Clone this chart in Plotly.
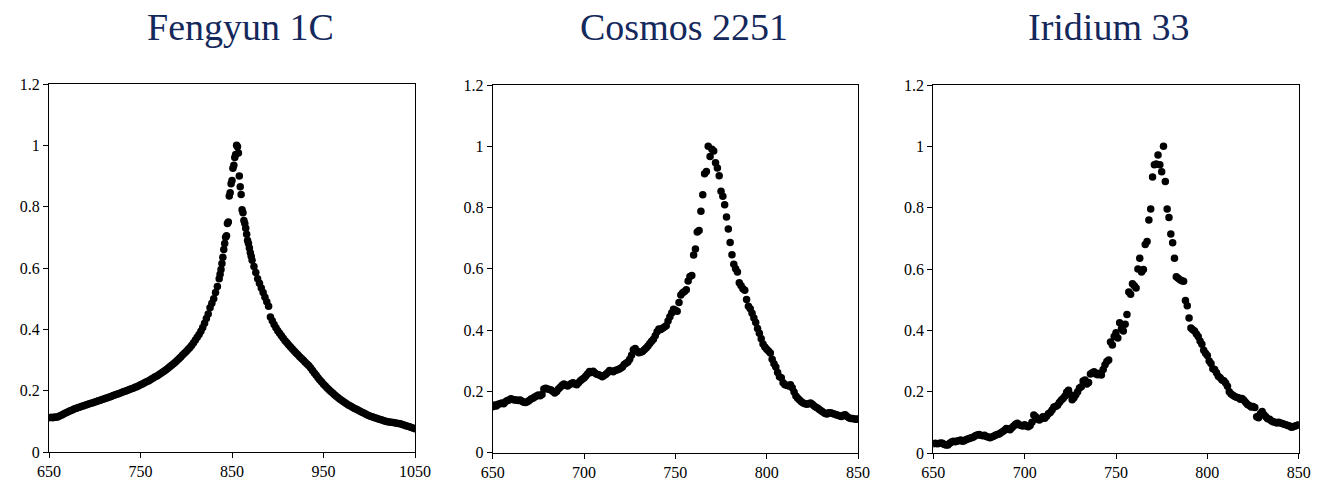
import plotly.graph_objects as go

# ---------------- data ----------------
titles = ["Fengyun 1C", "Cosmos 2251", "Iridium 33"]

y_ticks = [0, 0.2, 0.4, 0.6, 0.8, 1, 1.2]
y_tick_labels = ["0", "0.2", "0.4", "0.6", "0.8", "1", "1.2"]
x_ticks_1 = [650, 750, 850, 950, 1050]
x_ticks_23 = [650, 700, 750, 800, 850]

# Fengyun 1C: x sampled every 2 in tails, every 1 near the peak
fy_x_left = list(range(650, 836, 2))
fy_x_peak = list(range(836, 872))
fy_x_right = list(range(872, 1051, 2))

fy_y_left = [
    0.112, 0.113, 0.112, 0.114, 0.113, 0.115, 0.118, 0.121, 0.124, 0.127,
    0.130, 0.133, 0.135, 0.138, 0.141, 0.143, 0.145, 0.147, 0.149, 0.151,
    0.153, 0.155, 0.157, 0.159, 0.161, 0.163, 0.165, 0.167, 0.169, 0.171,
    0.173, 0.175, 0.177, 0.179, 0.181, 0.184, 0.186, 0.188, 0.190, 0.192,
    0.195, 0.197, 0.199, 0.201, 0.204, 0.206, 0.208, 0.211, 0.213, 0.216,
    0.219, 0.222, 0.225, 0.228, 0.231, 0.234, 0.238, 0.241, 0.245, 0.248,
    0.252, 0.256, 0.260, 0.264, 0.268, 0.273, 0.278, 0.283, 0.288, 0.293,
    0.298, 0.304, 0.310, 0.316, 0.322, 0.328, 0.334, 0.341, 0.348, 0.356,
    0.365, 0.374, 0.383, 0.394, 0.406, 0.420, 0.435, 0.450, 0.470, 0.485,
    0.500, 0.520, 0.540,
]
fy_y_peak = [
    0.565, 0.580, 0.595, 0.615, 0.635, 0.660, 0.680, 0.700, 0.705, 0.745,
    0.750, 0.835, 0.845, 0.875, 0.885, 0.925, 0.935, 0.960, 0.970, 1.000,
    0.995, 0.975, 0.900, 0.865, 0.840, 0.790, 0.780, 0.755, 0.745, 0.730,
    0.710, 0.690, 0.680, 0.665, 0.650, 0.638,
]
fy_y_right = [
    0.625, 0.605, 0.585, 0.565, 0.550, 0.535, 0.520, 0.505, 0.490, 0.475,
    0.440, 0.428, 0.416, 0.405, 0.395, 0.387, 0.379, 0.371, 0.363, 0.356,
    0.349, 0.342, 0.336, 0.329, 0.323, 0.317, 0.311, 0.305, 0.299, 0.293,
    0.287, 0.281, 0.274, 0.266, 0.258, 0.250, 0.242, 0.235, 0.228, 0.221,
    0.215, 0.209, 0.203, 0.197, 0.192, 0.187, 0.182, 0.177, 0.172, 0.168,
    0.164, 0.160, 0.156, 0.152, 0.149, 0.145, 0.142, 0.139, 0.136, 0.133,
    0.130, 0.127, 0.124, 0.121, 0.118, 0.116, 0.114, 0.112, 0.110, 0.108,
    0.106, 0.104, 0.102, 0.100, 0.099, 0.098, 0.097, 0.096, 0.095, 0.094,
    0.093, 0.092, 0.090, 0.088, 0.086, 0.084, 0.082, 0.080, 0.078, 0.076,
]

# Cosmos 2251: x = 650..850 step 1
cosmos_x = list(range(650, 851))
cosmos_y = [
    0.150, 0.156, 0.152, 0.158, 0.160, 0.162, 0.160, 0.166, 0.170, 0.172,
    0.176, 0.174, 0.172, 0.172, 0.170, 0.172, 0.168, 0.165, 0.164, 0.166,
    0.170, 0.175, 0.178, 0.182, 0.185, 0.188, 0.186, 0.190, 0.208, 0.210,
    0.208, 0.206, 0.205, 0.200, 0.195, 0.200, 0.208, 0.214, 0.220, 0.224,
    0.220, 0.218, 0.222, 0.226, 0.228, 0.224, 0.222, 0.228, 0.235, 0.240,
    0.244, 0.250, 0.258, 0.265, 0.262, 0.266, 0.260, 0.256, 0.254, 0.252,
    0.248, 0.252, 0.256, 0.262, 0.268, 0.266, 0.264, 0.268, 0.270, 0.272,
    0.276, 0.280, 0.288, 0.292, 0.296, 0.305, 0.318, 0.336, 0.340, 0.332,
    0.326, 0.328, 0.330, 0.336, 0.342, 0.348, 0.356, 0.364, 0.370, 0.382,
    0.395, 0.404, 0.402, 0.406, 0.410, 0.414, 0.430, 0.444, 0.456, 0.468,
    0.465, 0.462, 0.490, 0.515, 0.522, 0.526, 0.532, 0.560, 0.575, 0.578,
    0.645, 0.665, 0.720, 0.725, 0.788, 0.842, 0.910, 0.918, 1.000, 0.967,
    0.990, 0.985, 0.946, 0.929, 0.904, 0.853, 0.837, 0.809, 0.769, 0.730,
    0.686, 0.646, 0.615, 0.600, 0.590, 0.555, 0.545, 0.535, 0.530, 0.500,
    0.478, 0.470, 0.455, 0.440, 0.425, 0.405, 0.390, 0.372, 0.355, 0.345,
    0.338, 0.332, 0.325, 0.305, 0.290, 0.280, 0.262, 0.248, 0.245, 0.228,
    0.222, 0.220, 0.218, 0.222, 0.212, 0.198, 0.185, 0.178, 0.172, 0.166,
    0.162, 0.160, 0.158, 0.160, 0.162, 0.158, 0.152, 0.148, 0.145, 0.140,
    0.136, 0.132, 0.128, 0.126, 0.130, 0.130, 0.128, 0.126, 0.124, 0.122,
    0.120, 0.118, 0.122, 0.124, 0.118, 0.114, 0.112, 0.112, 0.110, 0.109,
    0.110,
]

# Iridium 33: x = 650..850 step 1
iridium_x = list(range(650, 851))
iridium_y = [
    0.030, 0.032, 0.030, 0.031, 0.033, 0.032, 0.028, 0.026, 0.026, 0.032,
    0.036, 0.038, 0.037, 0.039, 0.040, 0.042, 0.038, 0.040, 0.044, 0.046,
    0.048, 0.050, 0.052, 0.056, 0.059, 0.060, 0.058, 0.056, 0.058, 0.054,
    0.052, 0.050, 0.052, 0.055, 0.058, 0.060, 0.062, 0.066, 0.070, 0.074,
    0.080, 0.078, 0.076, 0.082, 0.088, 0.094, 0.097, 0.092, 0.090, 0.088,
    0.092, 0.088, 0.086, 0.090, 0.100, 0.124, 0.118, 0.110, 0.108, 0.112,
    0.118, 0.113, 0.120, 0.128, 0.132, 0.140, 0.150, 0.152, 0.156, 0.165,
    0.172, 0.178, 0.185, 0.198, 0.205, 0.190, 0.174, 0.180, 0.190, 0.200,
    0.212, 0.216, 0.235, 0.238, 0.225, 0.230, 0.258, 0.262, 0.265, 0.258,
    0.255, 0.260, 0.254, 0.272, 0.288, 0.298, 0.303, 0.362, 0.352, 0.380,
    0.392, 0.375, 0.425, 0.405, 0.398, 0.420, 0.452, 0.525, 0.518, 0.552,
    0.545, 0.538, 0.600, 0.635, 0.590, 0.598, 0.680, 0.690, 0.760, 0.796,
    0.900, 0.940, 0.942, 0.972, 0.940, 0.917, 1.000, 0.885, 0.796, 0.768,
    0.714, 0.686, 0.635, 0.575, 0.570, 0.565, 0.562, 0.560, 0.497, 0.480,
    0.440, 0.408, 0.402, 0.398, 0.388, 0.380, 0.365, 0.355, 0.335, 0.325,
    0.318, 0.300, 0.292, 0.275, 0.272, 0.262, 0.250, 0.245, 0.238, 0.236,
    0.228, 0.218, 0.200, 0.192, 0.188, 0.184, 0.182, 0.180, 0.175, 0.178,
    0.172, 0.165, 0.158, 0.155, 0.150, 0.152, 0.148, 0.118, 0.115, 0.128,
    0.135, 0.125, 0.118, 0.112, 0.110, 0.105, 0.102, 0.100, 0.098, 0.100,
    0.098, 0.096, 0.094, 0.092, 0.090, 0.088, 0.084, 0.086, 0.088, 0.090,
    0.092,
]

fy_x = fy_x_left + fy_x_peak + fy_x_right
fy_y = fy_y_left + fy_y_peak + fy_y_right
assert len(fy_x) == len(fy_y)
assert len(cosmos_x) == len(cosmos_y)
assert len(iridium_x) == len(iridium_y)

# ---------------- figure ----------------
W, H = 1317, 486
panels = [
    dict(x=fy_x, y=fy_y, xr=[650, 1050], xt=x_ticks_1, px=(49, 415), py=(84, 452), tx=240),
    dict(x=cosmos_x, y=cosmos_y, xr=[650, 850], xt=x_ticks_23, px=(492.7, 858), py=(85, 452.7), tx=684),
    dict(x=iridium_x, y=iridium_y, xr=[650, 850], xt=x_ticks_23, px=(933.3, 1298.7), py=(85, 453), tx=1108),
]

SERIF = "Liberation Serif"
fig = go.Figure()
tick_font = dict(family=SERIF, size=16, color="black")
layout = dict(
    width=W, height=H,
    margin=dict(l=0, r=0, t=0, b=0, pad=0, autoexpand=False),
    paper_bgcolor="white", plot_bgcolor="white",
    showlegend=False,
    annotations=[],
)

for i, p in enumerate(panels):
    sfx = "" if i == 0 else str(i + 1)
    fig.add_trace(go.Scatter(
        x=p["x"], y=p["y"], mode="markers",
        marker=dict(color="black", size=7.5, line=dict(width=0)),
        xaxis="x" + sfx, yaxis="y" + sfx, hoverinfo="skip",
    ))
    axis_common = dict(
        showline=True, linecolor="black", linewidth=1, mirror=True,
        ticks="outside", ticklen=5, tickwidth=1, tickcolor="black",
        showgrid=False, zeroline=False, tickfont=tick_font, automargin=False,
    )
    layout["xaxis" + sfx] = dict(
        axis_common, range=p["xr"], tickvals=p["xt"], ticktext=[str(v) for v in p["xt"]],
        domain=[p["px"][0] / W, p["px"][1] / W], anchor="y" + sfx,
    )
    layout["yaxis" + sfx] = dict(
        axis_common, range=[0, 1.2], tickvals=y_ticks, ticktext=y_tick_labels,
        domain=[(H - p["py"][1]) / H, (H - p["py"][0]) / H], anchor="x" + sfx,
    )
    layout["annotations"].append(dict(
        text=titles[i], xref="paper", yref="paper",
        x=p["tx"] / W, y=(H - 27) / H, xanchor="center", yanchor="middle",
        showarrow=False,
        font=dict(family=SERIF, size=38, color="#14285c"),
    ))

fig.update_layout(**layout)
fig.write_html("out.html")
